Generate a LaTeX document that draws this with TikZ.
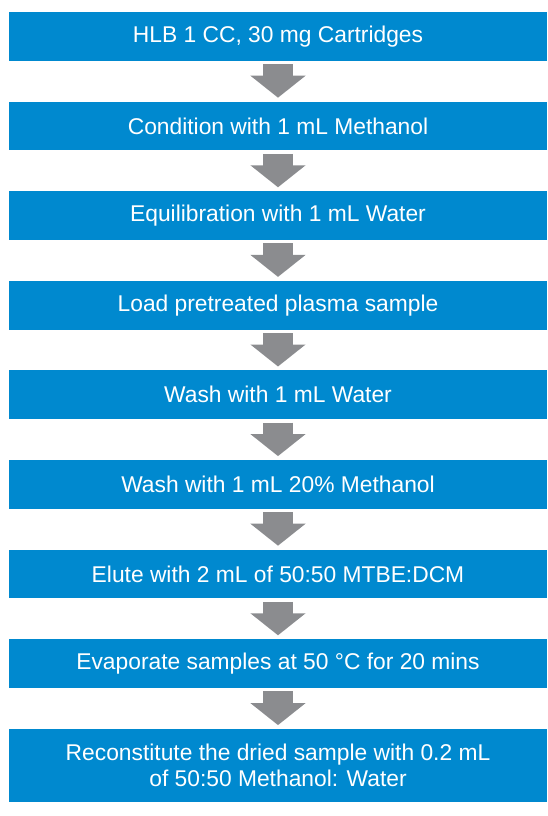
\documentclass[tikz,border=0pt]{standalone}
\usepackage{fontspec}
\setmainfont{Liberation Sans}
\usetikzlibrary{arrows.meta}
\definecolor{boxblue}{RGB}{0,137,207}
\definecolor{arrowgray}{RGB}{139,140,143}
\begin{document}
\begin{tikzpicture}[x=1pt,y=-1pt,
	stepbox/.style={fill=boxblue, text=white, minimum width=538pt, minimum height=48.7pt, inner sep=0pt, align=center, font=\fontsize{22.8}{26.2}\selectfont},
	flow/.style={arrowgray, line width=30pt, shorten <=3.3pt, shorten >=3.7pt, -{Triangle[width=54pt,length=22pt]}}]
		\useasboundingbox (0,0) rectangle (547,816);
		\node[stepbox] (s1) at (278,36.35) {HLB 1 CC, 30 mg Cartridges};
		\node[stepbox] (s2) at (278,125.95) {Condition with 1 mL Methanol};
		\node[stepbox] (s3) at (278,215.55) {Equilibration with 1 mL Water};
		\node[stepbox] (s4) at (278,305.15) {Load pretreated plasma sample};
		\node[stepbox] (s5) at (278,394.75) {Wash with 1 mL Water};
		\node[stepbox] (s6) at (278,484.35) {Wash with 1 mL 20\% Methanol};
		\node[stepbox] (s7) at (278,573.95) {Elute with 2 mL of 50:50 MTBE:DCM};
		\node[stepbox] (s8) at (278,663.55) {Evaporate samples at 50 °C for 20 mins};
		\node[stepbox, minimum height=73pt] (s9) at (278,765.5) {Reconstitute the dried sample with 0.2 mL\\of 50:50 Methanol: Water};
		% arrows between the steps
		\foreach \a/\b in {s1/s2,s2/s3,s3/s4,s4/s5,s5/s6,s6/s7,s7/s8,s8/s9}
			\draw[flow] (\a.south) -- (\b.north);
\end{tikzpicture}
\end{document}
